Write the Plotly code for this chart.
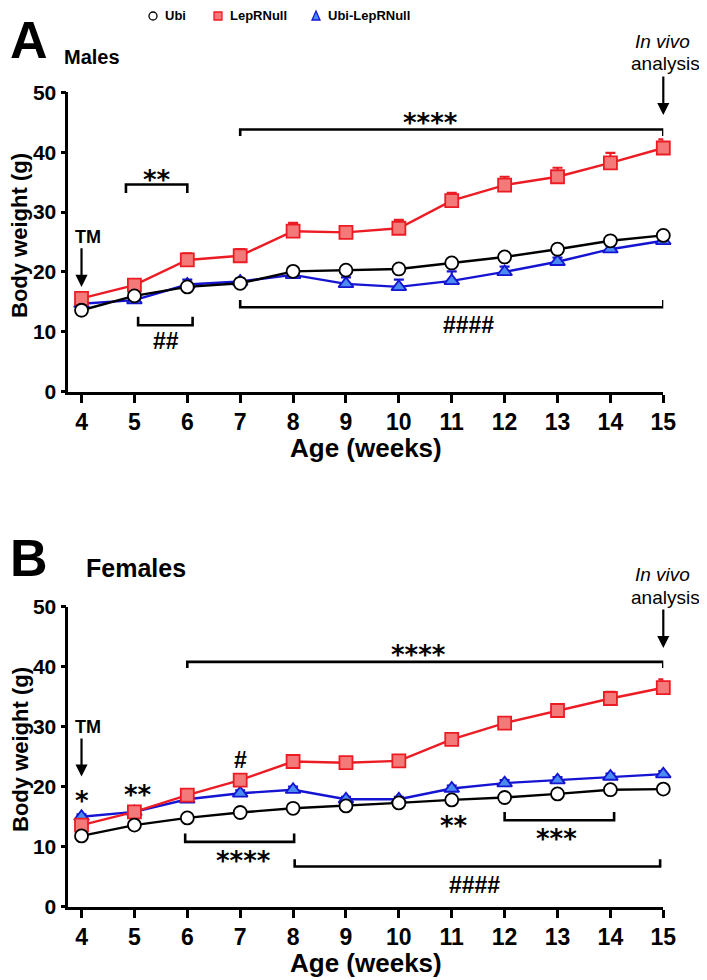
import plotly.graph_objects as go

weeks = [4, 5, 6, 7, 8, 9, 10, 11, 12, 13, 14, 15]

# males (panel A)
m_ubi = [13.6, 16.0, 17.5, 18.1, 20.1, 20.3, 20.5, 21.5, 22.5, 23.8, 25.2, 26.1]
m_ubi_err = [0.3, 0.4, 0.4, 0.3, 0.4, 0.4, 0.4, 0.5, 0.5, 0.5, 0.5, 0.5]
m_lep = [15.6, 17.8, 22.0, 22.7, 26.8, 26.6, 27.3, 31.9, 34.5, 35.9, 38.2, 40.7]
m_lep_err = [0.5, 0.8, 1.1, 1.1, 1.4, 1.0, 1.4, 1.3, 1.4, 1.5, 1.7, 1.45]
m_ubilep = [14.7, 15.3, 17.9, 18.4, 19.5, 18.0, 17.5, 18.5, 20.0, 21.7, 23.8, 25.2]
m_ubilep_err = [0.4, 0.6, 0.8, 0.5, 0.6, 1.1, 1.2, 1.6, 0.9, 0.7, 0.6, 0.6]

# females (panel B)
f_ubi = [11.8, 13.6, 14.8, 15.7, 16.4, 16.8, 17.3, 17.8, 18.2, 18.8, 19.5, 19.6]
f_ubi_err = [0.3, 0.3, 0.3, 0.3, 0.3, 0.3, 0.3, 0.3, 0.3, 0.3, 0.3, 0.3]
f_lep = [13.6, 15.8, 18.6, 21.1, 24.2, 24.0, 24.3, 27.9, 30.6, 32.7, 34.7, 36.5]
f_lep_err = [0.6, 0.5, 0.6, 0.7, 0.8, 0.7, 0.7, 1.0, 0.8, 1.0, 1.1, 1.4]
f_ubilep = [15.0, 15.8, 17.9, 18.9, 19.5, 17.9, 17.9, 19.7, 20.6, 21.1, 21.7, 22.1]
f_ubilep_err = [0.4, 0.4, 0.4, 0.5, 0.5, 0.4, 0.4, 0.5, 0.5, 0.5, 0.5, 0.5]

names = ["Ubi", "LepRNull", "Ubi-LepRNull"]

# the page body adds an 8px margin, so the figure is a bit smaller than the window
OFF = 8
W, H = 707 - OFF, 980 - OFF
FONT = "Liberation Sans, Arial, sans-serif"
STAR_FONT = "DejaVu Sans, sans-serif"
BLACK = "#000000"
RED = "#EC1C24"
RED_FILL = "#F47A7A"
BLUE = "#1414D2"
BLUE_FILL = "#4A8CF2"

styles = {
    "Ubi": dict(line=BLACK, fill="white", symbol="circle"),
    "LepRNull": dict(line=RED, fill=RED_FILL, symbol="square"),
    "Ubi-LepRNull": dict(line=BLUE, fill=BLUE_FILL, symbol="triangle-up"),
}


# window pixel -> paper fraction
def px(x):
    return (x - OFF) / W


def py(y):
    return 1 - (y - OFF) / H


fig = go.Figure()


def add_series(name, y, err, xa, ya):
    s = styles[name]
    fig.add_trace(go.Scatter(
        x=weeks, y=y, mode="lines+markers", name=name, showlegend=False,
        xaxis=xa, yaxis=ya, cliponaxis=False,
        line=dict(color=s["line"], width=2.4),
        marker=dict(symbol=s["symbol"], size=13, color=s["fill"],
                    line=dict(color=s["line"], width=1.8)),
        error_y=dict(type="data", array=err, arrayminus=[0] * len(err), symmetric=False,
                     color=s["line"], thickness=2.2, width=5),
    ))


# draw order: blue, red, black on top
add_series("Ubi-LepRNull", m_ubilep, m_ubilep_err, "x", "y")
add_series("LepRNull", m_lep, m_lep_err, "x", "y")
add_series("Ubi", m_ubi, m_ubi_err, "x", "y")
add_series("Ubi-LepRNull", f_ubilep, f_ubilep_err, "x2", "y2")
add_series("LepRNull", f_lep, f_lep_err, "x2", "y2")
add_series("Ubi", f_ubi, f_ubi_err, "x2", "y2")

axis_common = dict(
    showline=True, linewidth=2.6, linecolor="black", showgrid=False, zeroline=False,
    ticks="outside", tickwidth=2.6, tickcolor="black", automargin=False,
)
xtick = dict(family=FONT, size=23, color="black", weight="bold")
ytick = dict(family=FONT, size=21, color="black", weight="bold")
xdom = [px(68.3), px(663.3)]
fig.update_layout(
    xaxis=dict(domain=xdom, range=[3.75, 15], tickvals=weeks, ticklen=8, anchor="y",
               tickfont=xtick, **axis_common),
    yaxis=dict(domain=[py(391.7), py(92.3)], range=[0, 50], dtick=10, ticklen=5,
               anchor="x", tickfont=ytick, **axis_common),
    xaxis2=dict(domain=xdom, range=[3.75, 15], tickvals=weeks, ticklen=8, anchor="y2",
                tickfont=xtick, **axis_common),
    yaxis2=dict(domain=[py(906.7), py(606.7)], range=[0, 50], dtick=10, ticklen=5,
                anchor="x2", tickfont=ytick, **axis_common),
)

ann = []
shapes = []


def text(xr, yr, x, y, t, size=22, bold=True, italic=False, xanchor="center",
         family=FONT, angle=0):
    ann.append(dict(xref=xr, yref=yr, x=x, y=y, text=t, showarrow=False,
                    xanchor=xanchor, yanchor="middle", textangle=angle,
                    font=dict(family=family, size=size, color="black",
                              weight="bold" if bold else "normal",
                              style="italic" if italic else "normal")))


def stars(xr, yr, x, y, t):
    text(xr, yr, x, y, t, size=26, family=STAR_FONT)


def arrow(xr, yr, x, y0, y1):
    ann.append(dict(xref=xr, yref=yr, axref=xr, ayref=yr, x=x, y=y1, ax=x, ay=y0,
                    text="", showarrow=True, arrowhead=2, arrowsize=1.1, arrowwidth=2.2,
                    arrowcolor="black"))


def bracket(xr, yr, x0, x1, y, yt):
    shapes.append(dict(type="path", xref=xr, yref=yr,
                       path=f"M {x0},{yt} L {x0},{y} L {x1},{y} L {x1},{yt}",
                       line=dict(color="black", width=2.6)))


# legend (marker-only keys, drawn in pixel space)
legend_x = [153, 218, 316]
legend_y = 16
r = 4
shapes.append(dict(type="circle", xref="paper", yref="paper",
                   x0=px(legend_x[0] - r), x1=px(legend_x[0] + r),
                   y0=py(legend_y + r), y1=py(legend_y - r),
                   fillcolor="white", line=dict(color=BLACK, width=1.3)))
shapes.append(dict(type="rect", xref="paper", yref="paper",
                   x0=px(legend_x[1] - r), x1=px(legend_x[1] + r),
                   y0=py(legend_y + r), y1=py(legend_y - r),
                   fillcolor=RED_FILL, line=dict(color=RED, width=1.3)))
tx = legend_x[2]
shapes.append(dict(type="path", xref="paper", yref="paper",
                   path=f"M {px(tx - r)},{py(legend_y + r)} L {px(tx + r)},{py(legend_y + r)} "
                        f"L {px(tx)},{py(legend_y - r - 1)} Z",
                   fillcolor=BLUE_FILL, line=dict(color=BLUE, width=1.3)))
for lx, n in zip(legend_x, names):
    text("paper", "paper", px(lx + 10), py(legend_y), n, size=13, xanchor="left")

# panel A
text("paper", "paper", px(8), py(40), "A", size=52, xanchor="left")
text("paper", "paper", px(62), py(57), "Males", size=20, xanchor="left")
text("x", "y", 4.13, 25.9, "TM", size=18)
arrow("x", "y", 4, 24.2, 17.5)
text("paper", "paper", px(662), py(41), "In vivo", size=19, bold=False, italic=True)
text("paper", "paper", px(629), py(64), "analysis", size=19, bold=False, xanchor="left")
arrow("x", "y", 15, 52.9, 46.2)
bracket("x", "y", 7, 15, 43.8, 42.7)
stars("x", "y", 10.59, 44.9, "****")
bracket("x", "y", 4.84, 6, 34.6, 33.2)
stars("x", "y", 5.43, 35.3, "**")
bracket("x", "y", 5.07, 6.1, 11.1, 12.5)
text("x", "y", 5.6, 8.4, "##", size=23)
bracket("x", "y", 7, 15, 14.1, 15.3)
text("x", "y", 11.32, 11.1, "####", size=23)
text("paper", "paper", px(366), py(448), "Age (weeks)", size=26)
text("paper", "paper", px(20), py(236), "Body weight (g)", size=22, angle=-90)

# panel B
text("paper", "paper", px(8), py(558), "B", size=52, xanchor="left")
text("paper", "paper", px(84), py(568), "Females", size=25, xanchor="left")
text("x2", "y2", 4.13, 29.9, "TM", size=18)
arrow("x2", "y2", 4, 28.3, 21.7)
text("paper", "paper", px(662), py(574), "In vivo", size=19, bold=False, italic=True)
text("paper", "paper", px(629), py(597), "analysis", size=19, bold=False, xanchor="left")
arrow("x2", "y2", 15, 49.8, 43.1)
bracket("x2", "y2", 6, 15, 40.8, 39.8)
stars("x2", "y2", 10.37, 41.95, "****")
stars("x2", "y2", 4.0, 17.6, "*")
stars("x2", "y2", 5.06, 18.6, "**")
text("x2", "y2", 7.0, 24.4, "#", size=23)
bracket("x2", "y2", 5.96, 8.02, 10.8, 12.2)
stars("x2", "y2", 7.06, 7.6, "****")
bracket("x2", "y2", 8.03, 14.94, 6.7, 7.9)
text("x2", "y2", 11.43, 3.7, "####", size=23)
stars("x2", "y2", 11.04, 13.5, "**")
bracket("x2", "y2", 12, 14.07, 14.4, 15.8)
stars("x2", "y2", 12.99, 11.3, "***")
stars("x2", "y2", 15.03, 14.6, "****")
text("paper", "paper", px(366), py(963), "Age (weeks)", size=26)
text("paper", "paper", px(20), py(750), "Body weight (g)", size=22, angle=-90)

fig.update_layout(
    width=W, height=H, margin=dict(l=0, r=0, t=0, b=0),
    paper_bgcolor="white", plot_bgcolor="white",
    annotations=ann, shapes=shapes, showlegend=False,
)

fig.write_html("out.html")
